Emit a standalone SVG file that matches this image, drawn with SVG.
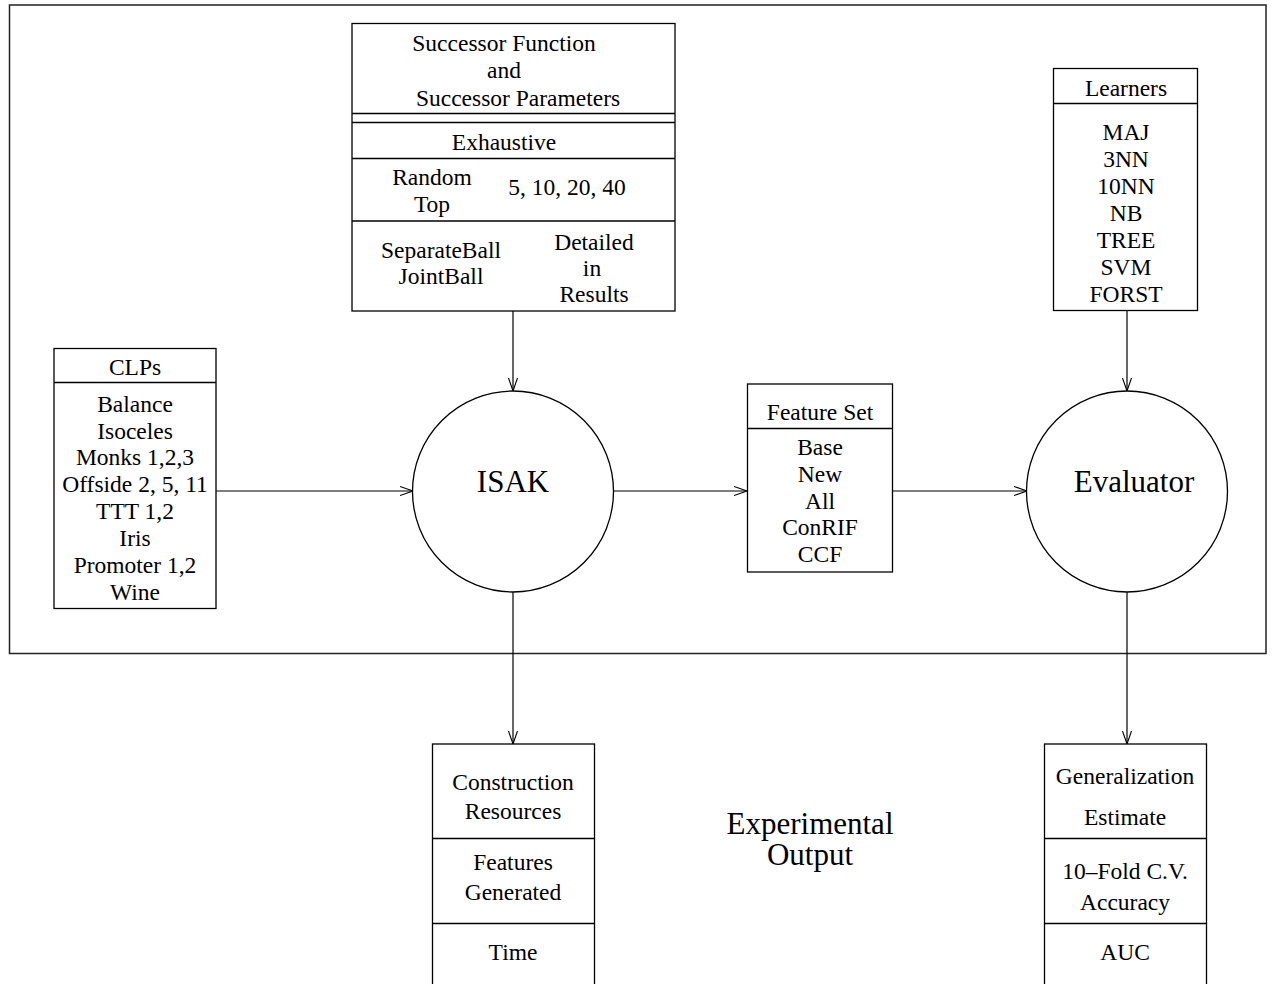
<svg xmlns="http://www.w3.org/2000/svg" width="1273" height="984" viewBox="0 0 1273 984">
  <defs>
    <marker id="vhead" markerUnits="userSpaceOnUse" markerWidth="14" markerHeight="10" viewBox="0 0 14 10" refX="13" refY="5" orient="auto">
      <path d="M0,0.5 L13,5 L0,9.5" fill="none" stroke="#000" stroke-width="1.1"/>
    </marker>
  </defs>
  <style>
    .box { fill: #fff; stroke: #000; stroke-width: 1.3; }
    .sep { stroke: #000; stroke-width: 1.3; }
    .frame { fill: none; stroke: #222; stroke-width: 1.5; }
    .conn { fill: none; stroke: #000; stroke-width: 1.2; marker-end: url(#vhead); }
    text { font-family: "Liberation Serif", "Times New Roman", serif; fill: #000; text-anchor: middle; }
    .t { font-size: 23.5px; }
    .big { font-size: 31px; }
  </style>

  <rect x="0" y="0" width="1273" height="984" fill="#fff"/>

  <!-- boundary of the experiment system -->
  <rect class="frame" x="9.5" y="5" width="1256.5" height="648.5"/>

  <!-- connectors -->
  <g id="connectors">
    <line class="conn" x1="216" y1="491" x2="413" y2="491"/>
    <line class="conn" x1="513" y1="311" x2="513" y2="391"/>
    <line class="conn" x1="613" y1="491" x2="747" y2="491"/>
    <line class="conn" x1="893" y1="491" x2="1027" y2="491"/>
    <line class="conn" x1="1127" y1="311" x2="1127" y2="391"/>
    <line class="conn" x1="513" y1="592" x2="513" y2="744"/>
    <line class="conn" x1="1127" y1="592" x2="1127" y2="744"/>
  </g>

  <!-- successor function and parameters -->
  <g id="successor">
    <rect class="box" x="352" y="23.5" width="323" height="287.5"/>
    <line class="sep" x1="352" y1="113.5" x2="675" y2="113.5"/>
    <line class="sep" x1="352" y1="122.5" x2="675" y2="122.5"/>
    <line class="sep" x1="352" y1="158.5" x2="675" y2="158.5"/>
    <line class="sep" x1="352" y1="221" x2="675" y2="221"/>
    <text class="t" x="504" y="51">Successor Function</text>
    <text class="t" x="504" y="78">and</text>
    <text class="t" x="518" y="105.5">Successor Parameters</text>
    <text class="t" x="504" y="150">Exhaustive</text>
    <text class="t" x="432" y="185">Random</text>
    <text class="t" x="432" y="211.5">Top</text>
    <text class="t" x="567" y="195">5, 10, 20, 40</text>
    <text class="t" x="441" y="258">SeparateBall</text>
    <text class="t" x="441" y="284">JointBall</text>
    <text class="t" x="594" y="249.5">Detailed</text>
    <text class="t" x="592" y="276">in</text>
    <text class="t" x="594" y="302">Results</text>
  </g>

  <!-- learners -->
  <g id="learners">
    <rect class="box" x="1053.5" y="68.5" width="144" height="242"/>
    <line class="sep" x1="1053.5" y1="103.5" x2="1197.5" y2="103.5"/>
    <text class="t" x="1126" y="96">Learners</text>
    <text class="t" x="1126" y="140">MAJ</text>
    <text class="t" x="1126" y="167">3NN</text>
    <text class="t" x="1126" y="194">10NN</text>
    <text class="t" x="1126" y="221">NB</text>
    <text class="t" x="1126" y="248">TREE</text>
    <text class="t" x="1126" y="275">SVM</text>
    <text class="t" x="1126" y="301.5">FORST</text>
  </g>

  <!-- classification learning problems -->
  <g id="clps">
    <rect class="box" x="54" y="348.5" width="162" height="260"/>
    <line class="sep" x1="54" y1="382.5" x2="216" y2="382.5"/>
    <text class="t" x="135" y="375">CLPs</text>
    <text class="t" x="135" y="411.5">Balance</text>
    <text class="t" x="135" y="438.5">Isoceles</text>
    <text class="t" x="135" y="465">Monks 1,2,3</text>
    <text class="t" x="135" y="492">Offside 2, 5, 11</text>
    <text class="t" x="135" y="518.5">TTT 1,2</text>
    <text class="t" x="135" y="545.5">Iris</text>
    <text class="t" x="135" y="572.5">Promoter 1,2</text>
    <text class="t" x="135" y="599.5">Wine</text>
  </g>

  <!-- ISAK -->
  <g id="isak">
    <circle class="box" cx="513" cy="491.5" r="100.5"/>
    <text class="big" x="513" y="492">ISAK</text>
  </g>

  <!-- feature set -->
  <g id="featureset">
    <rect class="box" x="747.5" y="384" width="145" height="188"/>
    <line class="sep" x1="747.5" y1="428.5" x2="892.5" y2="428.5"/>
    <text class="t" x="820" y="420">Feature Set</text>
    <text class="t" x="820" y="455">Base</text>
    <text class="t" x="820" y="482">New</text>
    <text class="t" x="820" y="508.5">All</text>
    <text class="t" x="820" y="535">ConRIF</text>
    <text class="t" x="820" y="562">CCF</text>
  </g>

  <!-- evaluator -->
  <g id="evaluator">
    <circle class="box" cx="1127" cy="491.5" r="100.5"/>
    <text class="big" x="1134" y="492">Evaluator</text>
  </g>

  <!-- construction resources output -->
  <g id="construction">
    <rect class="box" x="432.5" y="744" width="162" height="260"/>
    <line class="sep" x1="432.5" y1="838.5" x2="594.5" y2="838.5"/>
    <line class="sep" x1="432.5" y1="923.5" x2="594.5" y2="923.5"/>
    <text class="t" x="513" y="790">Construction</text>
    <text class="t" x="513" y="818.5">Resources</text>
    <text class="t" x="513" y="869.5">Features</text>
    <text class="t" x="513" y="900">Generated</text>
    <text class="t" x="513" y="960">Time</text>
  </g>

  <!-- generalization estimate output -->
  <g id="generalization">
    <rect class="box" x="1044.5" y="744" width="162" height="260"/>
    <line class="sep" x1="1044.5" y1="838.5" x2="1206.5" y2="838.5"/>
    <line class="sep" x1="1044.5" y1="923.5" x2="1206.5" y2="923.5"/>
    <text class="t" x="1125" y="783.5">Generalization</text>
    <text class="t" x="1125" y="825">Estimate</text>
    <text class="t" x="1125" y="878.5">10–Fold C.V.</text>
    <text class="t" x="1125" y="910">Accuracy</text>
    <text class="t" x="1125" y="960">AUC</text>
  </g>

  <!-- caption -->
  <g id="experimental-output">
    <text class="big" x="810" y="833.5">Experimental</text>
    <text class="big" x="810" y="865">Output</text>
  </g>
</svg>
